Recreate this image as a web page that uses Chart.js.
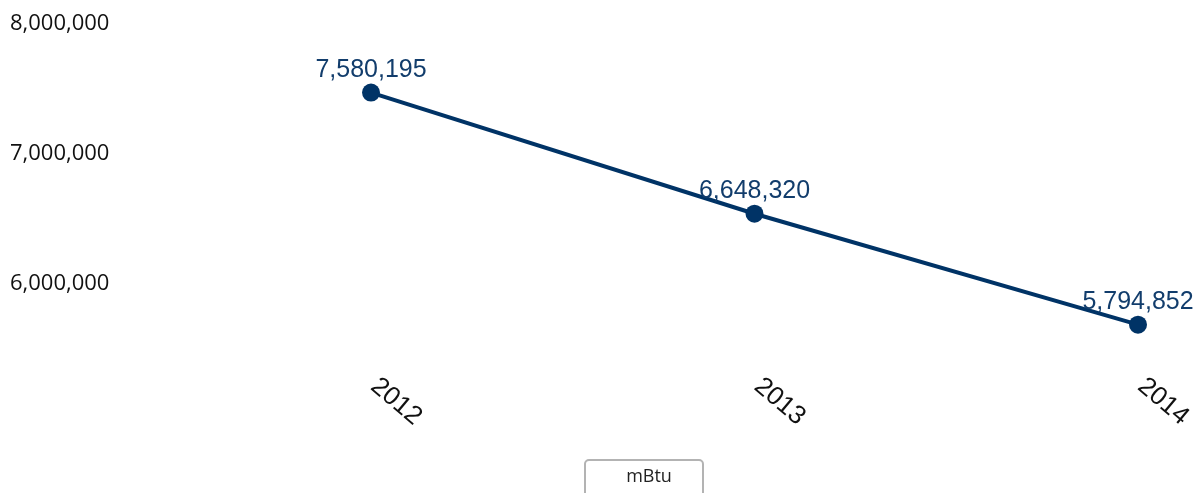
<!DOCTYPE html>
<html>
<head>
<meta charset="utf-8">
<script src="https://cdn.jsdelivr.net/npm/chart.js@4/dist/chart.umd.min.js"></script>
<style>
  body { margin: 0; background: #fff; }
  #wrap { width: 1200px; height: 493px; }
</style>
</head>
<body>
<div id="wrap"><canvas id="chartEnergia" width="1200" height="493"></canvas></div>
<script>
      var years = ['2012', '2013', '2014'];
      var mbtu = [7580195, 6648320, 5794852];
      var yTicks = [6000000, 7000000, 8000000];
      var seriesName = 'mBtu';

      var lineColor = '#003366';

      function fmt(v) {
        return v.toLocaleString('en-US');
      }

      // etiquetas de valor sobre cada punto
      var valueLabels = {
        id: 'valueLabels',
        afterDatasetsDraw: function (chart) {
          var ctx = chart.ctx;
          var meta = chart.getDatasetMeta(0);
          ctx.save();
          ctx.font = '25px "Liberation Sans", Arial, sans-serif';
          ctx.fillStyle = '#123d6c';
          ctx.textAlign = 'center';
          ctx.textBaseline = 'alphabetic';
          meta.data.forEach(function (pt, i) {
            ctx.fillText(fmt(mbtu[i]), pt.x, pt.y - 16);
          });
          ctx.restore();
        }
      };

      // años girados hacia abajo y leyenda en caja
      var extras = {
        id: 'extras',
        afterDraw: function (chart) {
          var ctx = chart.ctx;
          var xs = chart.scales.x;
          var bottom = chart.chartArea.bottom;
          ctx.save();
          ctx.font = '26px "Liberation Sans", Arial, sans-serif';
          ctx.fillStyle = '#111';
          ctx.textAlign = 'left';
          ctx.textBaseline = 'middle';
          years.forEach(function (y, i) {
            var x = xs.getPixelForValue(i);
            ctx.save();
            ctx.translate(x + 3, bottom + 20);
            ctx.rotate(40 * Math.PI / 180);
            ctx.fillText(y, 0, 0);
            ctx.restore();
          });

          ctx.strokeStyle = '#b3b3b3';
          ctx.lineWidth = 2;
          ctx.beginPath();
          ctx.roundRect(585, 460, 118, 45, 4);
          ctx.stroke();
          ctx.font = '18px "Open Sans", sans-serif';
          ctx.fillStyle = '#222';
          ctx.textAlign = 'center';
          ctx.fillText(seriesName, 649, 477);
          ctx.restore();
        }
      };

      var ctx = document.getElementById('chartEnergia');
      new Chart(ctx, {
        type: 'line',
        data: {
          labels: years,
          datasets: [
            {
              label: seriesName,
              data: mbtu,
              borderColor: lineColor,
              backgroundColor: lineColor,
              borderWidth: 4,
              pointRadius: 9,
              pointBorderWidth: 0,
              pointBackgroundColor: lineColor,
              tension: 0,
              clip: false
            }
          ]
        },
        options: {
          responsive: false,
          animation: false,
          layout: {
            padding: { top: 38, left: 10, right: 62, bottom: 130 }
          },
          scales: {
            x: {
              display: false
            },
            y: {
              min: 5500000,
              max: 8000000,
              grid: { display: false, drawTicks: false },
              border: { display: false },
              afterBuildTicks: function (scale) {
                scale.ticks = yTicks.map(function (v) { return { value: v }; });
              },
              afterFit: function (scale) {
                scale.width = 361;
              },
              ticks: {
                crossAlign: 'far',
                labelOffset: -14,
                color: '#111',
                font: { family: 'Open Sans', size: 22 },
                callback: function (v) { return fmt(v); }
              }
            }
          },
          plugins: {
            legend: { display: false },
            tooltip: { enabled: false }
          }
        },
        plugins: [valueLabels, extras]
      });
</script>
</body>
</html>
